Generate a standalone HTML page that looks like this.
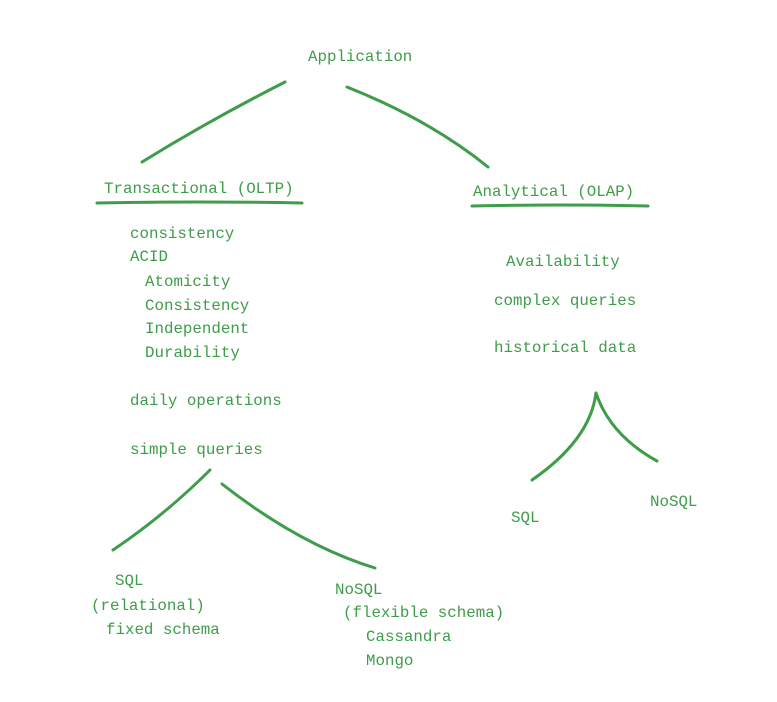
<!DOCTYPE html>
<html><head><meta charset="utf-8"><style>
html,body{margin:0;padding:0;background:#fff;width:777px;height:702px;overflow:hidden}
svg text{font-family:"Liberation Mono",monospace;font-size:15.8px;fill:#3f9c4a;dominant-baseline:middle}
path{fill:none;stroke:#3f9c4a;stroke-width:3;stroke-linecap:round}
</style></head><body>
<svg width="777" height="702" viewBox="0 0 777 702">
<text x="308" y="57">Application</text>
<path d="M285 82 Q210 120 142 162"/>
<path d="M347 87 Q430 120 488 167"/>
<text x="104" y="189">Transactional (OLTP)</text>
<path d="M97 203 Q200 201 302 203" stroke-width="3.5"/>
<text x="473" y="192">Analytical (OLAP)</text>
<path d="M472 206 Q560 204 648 206" stroke-width="3.5"/>
<text x="130" y="234">consistency</text>
<text x="130" y="257">ACID</text>
<text x="145" y="282">Atomicity</text>
<text x="145" y="306">Consistency</text>
<text x="145" y="329">Independent</text>
<text x="145" y="353">Durability</text>
<text x="130" y="401">daily operations</text>
<text x="130" y="450">simple queries</text>
<path d="M210 470 Q165 515 113 550"/>
<path d="M222 484 Q300 545 375 568"/>
<text x="115" y="581">SQL</text>
<text x="91" y="606">(relational)</text>
<text x="106" y="630">fixed schema</text>
<text x="335" y="590">NoSQL</text>
<text x="343" y="613">(flexible schema)</text>
<text x="366" y="637">Cassandra</text>
<text x="366" y="661">Mongo</text>
<text x="506" y="262">Availability</text>
<text x="494" y="301">complex queries</text>
<text x="494" y="348">historical data</text>
<path d="M596 393 Q590 440 532 480"/>
<path d="M596 393 Q610 435 657 461"/>
<text x="511" y="518">SQL</text>
<text x="650" y="502">NoSQL</text>
</svg>
</body></html>
